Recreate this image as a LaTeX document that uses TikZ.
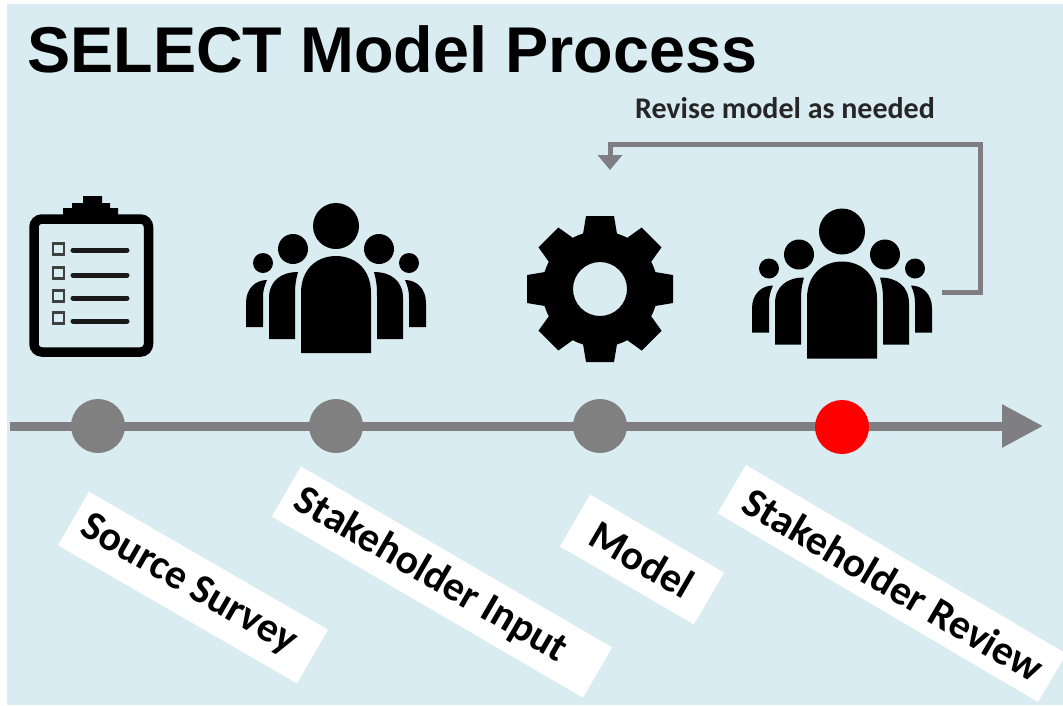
\documentclass[tikz,border=0pt]{standalone}
\usepackage{fontspec}
\setmainfont{Liberation Sans}
\newfontfamily\calfont{Carlito}
\usetikzlibrary{arrows.meta}
\definecolor{bgblue}{HTML}{D9ECF2}
\definecolor{linegrey}{HTML}{7F7F83}
\definecolor{dotgrey}{HTML}{808080}
\definecolor{dotred}{HTML}{FF0000}
\tikzset{
  dot/.style={circle,fill=#1,draw=none,minimum size=54pt,inner sep=0pt},
  tag/.style={fill=white,inner sep=0pt,font=\calfont\bfseries\fontsize{41.5}{41.5}\selectfont,text=black},
  crowd/.pic={
    \fill[black] (0,-127) circle[radius=23pt];
    \fill[black] (-35,0) -- (-35,-60) .. controls (-35,-85) and (-18,-97) .. (0,-97)
       .. controls (18,-97) and (35,-85) .. (35,-60) -- (35,0) -- cycle;
    \foreach \s in {-1,1}{
      \begin{scope}[xscale=\s]
        \fill[black] (43,-104) circle[radius=15pt];
        \fill[black] (73,-90) circle[radius=10pt];
        \fill[black] (67,-14) -- (67,-55) .. controls (67,-72) and (55,-81) .. (38,-81)
           .. controls (41,-70) and (41,-65) .. (41,-55) -- (41,-14) -- cycle;
        \fill[black] (90,-26) -- (90,-50) .. controls (90,-65) and (80,-73) .. (69,-73)
           .. controls (72,-66) and (73,-62) .. (73,-55) -- (73,-26) -- cycle;
      \end{scope}
    }
  }
}
\begin{document}
\begin{tikzpicture}[x=1pt,y=-1pt]
\clip (0,0) rectangle (1063,705);
\useasboundingbox (0,0) rectangle (1063,705);
\fill[white] (0,0) rectangle (1063,705);
\fill[bgblue] (7,4) rectangle (1063,705);

\node[anchor=base west,inner sep=0pt,font=\bfseries\fontsize{64.7}{64.7}\selectfont] (title) at (27,72) {SELECT Model Process};
\node[inner sep=0pt,font=\calfont\bfseries\fontsize{30}{30}\selectfont,text=black!85] (revise) at (785,108) {Revise model as needed};

% clipboard
\draw[line width=9.5pt,black,rounded corners=8pt] (34,219) rectangle (148.5,352);
\fill[black] (63,216) -- (63,208) -- (72,208) -- (72,203) -- (83,203) -- (83,196) -- (102,196) -- (102,203) -- (110,203) -- (110,208) -- (118,208) -- (118,216) -- cycle;
\foreach \yb/\yl in {249/250,273/275,296/298,318/321}{
  \draw[line width=2.5pt,black!75] (53,\yb-5.5) rectangle (64,\yb+5.5);
  \draw[line width=5pt,black!90,line cap=round] (73,\yl) -- (127,\yl);
}

% crowds
\pic at (336,353) {crowd};
\pic at (842,358.5) {crowd};
\coordinate (reviewright) at (942,292);

% gear
\begin{scope}[shift={(600,289)}]
  \fill[black,even odd rule] (0,0) circle[radius=58pt] (0,0) circle[radius=27pt];
  \foreach \k in {0,45,...,315}{
    \fill[black,rotate=\k] (-17,-55) -- (-14,-73) -- (14,-73) -- (17,-55) -- cycle;
  }
\end{scope}

% feedback loop
\coordinate (corner1) at (980,144);
\coordinate (corner2) at (610,144);
\coordinate (gearin) at (610,170);
\draw[linegrey,line width=5pt,-{Triangle[length=15pt,width=24pt]}] (reviewright) -- (corner1 |- reviewright) -- (corner1) -- (corner2) -- (gearin);

% timeline
\coordinate (linestart) at (10,426);
\coordinate (linetip) at (1043,426);
\draw[linegrey,line width=9pt,-{Triangle[length=41pt,width=41pt]}] (linestart) -- (linetip);
\node[dot=dotgrey] (d1) at (98,426) {};
\node[dot=dotgrey] (d2) at (336,426) {};
\node[dot=dotgrey] (d3) at (600,426) {};
\node[dot=dotred] (d4) at (842,427) {};

% labels
\node[tag,rotate=-30,minimum width=276pt,minimum height=62pt] (l1) at (193,587.5) {\raisebox{-3pt}{Source Survey}\hspace*{10pt}};
\node[tag,rotate=-30.2,minimum width=360pt,minimum height=58pt] (l2) at (442,582) {Stakeholder Input\hspace*{26pt}};
\node[tag,rotate=-30.2,minimum width=155pt,minimum height=60pt] (l3) at (642,559.5) {Model};
\node[tag,rotate=-30.5,minimum width=372pt,minimum height=56pt] (l4) at (892,583.5) {\hspace*{4pt}Stakeholder Review};
\end{tikzpicture}
\end{document}
